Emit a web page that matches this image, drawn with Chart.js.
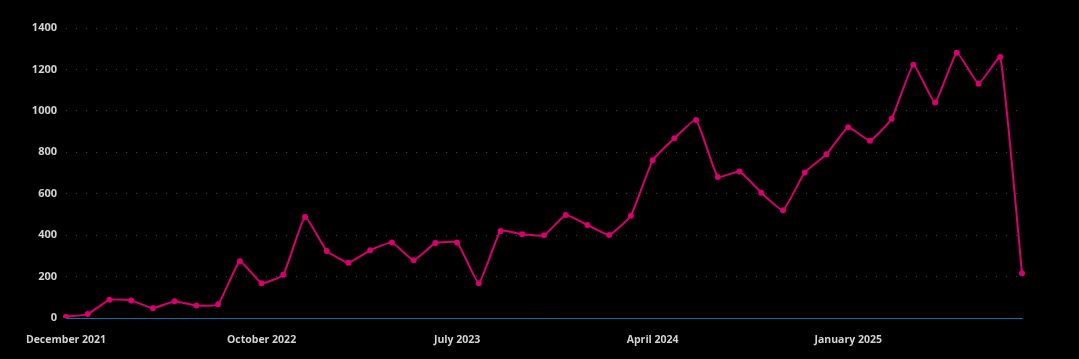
<!DOCTYPE html>
<html>
<head>
<meta charset="utf-8">
<script src="https://cdn.jsdelivr.net/npm/chart.js@4"></script>
<style>
  html, body { margin: 0; padding: 0; background: #000; }
  #wrap { width: 1079px; height: 359px; }
</style>
</head>
<body>
<div id="wrap"><canvas id="c" width="1079" height="359"></canvas></div>
<script>
const months = [
  "December 2021","February 2022","March 2022","April 2022","May 2022","June 2022","July 2022","August 2022","September 2022",
  "October 2022","November 2022","December 2022","January 2023","February 2023","March 2023","April 2023","May 2023","June 2023",
  "July 2023","August 2023","September 2023","October 2023","November 2023","December 2023","January 2024","February 2024","March 2024",
  "April 2024","May 2024","June 2024","July 2024","August 2024","September 2024","October 2024","November 2024","December 2024",
  "January 2025","February 2025","March 2025","April 2025","May 2025","June 2025","July 2025","August 2025","September 2025"
];
const values = [
  6, 19, 88, 85, 47, 81, 60, 66, 274,
  168, 209, 488, 324, 267, 327, 365, 279, 362,
  364, 168, 420, 404, 399, 497, 449, 401, 494,
  761, 868, 956, 681, 707, 605, 520, 703, 790,
  921, 856, 962, 1222, 1040, 1281, 1131, 1260, 216
];
const shownTicks = ["December 2021","October 2022","July 2023","April 2024","January 2025"];
const yTicks = [0, 200, 400, 600, 800, 1000, 1200, 1400];

const FONT = "'Open Sans', 'Liberation Sans', sans-serif";

new Chart(document.getElementById('c'), {
  type: 'line',
  data: {
    labels: months,
    datasets: [{
      data: values,
      borderColor: '#d6006e',
      backgroundColor: '#d6006e',
      borderWidth: 2,
      pointRadius: 3,
      pointBorderWidth: 0,
      pointBackgroundColor: '#d6006e',
      tension: 0.12,
      fill: false
    }]
  },
  options: {
    responsive: false,
    animation: false,
    layout: { padding: { left: 0, right: 57, top: 28, bottom: 0 } },
    plugins: { legend: { display: false }, tooltip: { enabled: false } },
    scales: {
      x: {
        type: 'category',
        offset: false,
        grid: { display: false, drawTicks: false, tickLength: 0 },
        border: { display: true, color: '#0a6ea8', width: 1 },
        ticks: {
          autoSkip: false,
          maxRotation: 0,
          padding: 16,
          color: '#d2d2d2',
          font: { family: FONT, size: 10.5, weight: 'bold' },
          callback: function(v, i) {
            const l = this.getLabelForValue(v);
            return shownTicks.includes(l) ? l : '';
          }
        },
        afterFit: function(s) { s.height = 41; }
      },
      y: {
        min: 0,
        max: 1400,
        afterBuildTicks: function(s) { s.ticks = yTicks.map(v => ({ value: v })); },
        grid: {
          drawTicks: false,
          tickLength: 0,
          color: function(ctx) { return ctx.tick && ctx.tick.value === 0 ? 'rgba(0,0,0,0)' : '#0e4f6e'; },
          lineWidth: 1
        },
        border: { display: false, dash: [1, 9] },
        ticks: {
          padding: 9,
          color: '#d2d2d2',
          font: { family: FONT, size: 11, weight: 'bold' },
          callback: function(v) { return String(v); }
        },
        afterFit: function(s) { s.width = 66; }
      }
    }
  }
});
</script>
</body>
</html>
